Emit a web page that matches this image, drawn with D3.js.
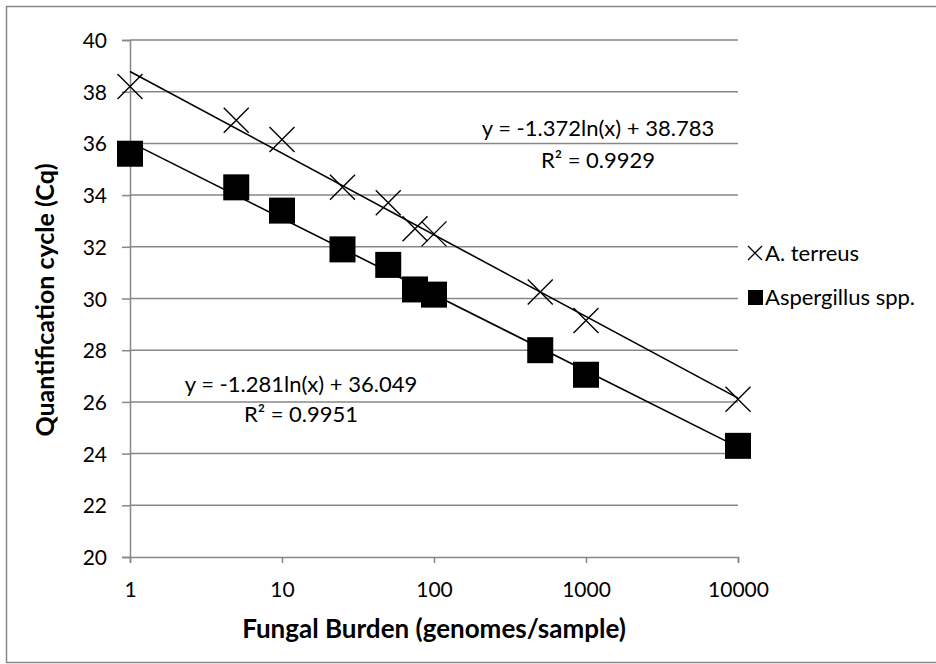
<!DOCTYPE html>
<html>
<head>
<meta charset="utf-8">
<script src="https://cdn.jsdelivr.net/npm/d3@7"></script>
<style>
  body { margin: 0; background: #fff; }
  svg text { font-family: Lato, "Noto Sans", sans-serif; fill: #000; }
</style>
</head>
<body>
<svg width="936" height="664"></svg>
<script>
const burden = [1, 5, 10, 25, 50, 75, 100, 500, 1000, 10000];
const terreus = [38.2, 36.9, 36.15, 34.3, 33.7, 32.7, 32.5, 30.25, 29.15, 26.1];
const aspergillus = [35.6, 34.3, 33.4, 31.9, 31.3, 30.35, 30.15, 28.0, 27.05, 24.3];

// trendline coefficients shown on the chart: y = a ln(x) + b
const fits = [
    { name: "A. terreus", a: -1.372, b: 38.783, eq: "y = -1.372ln(x) + 38.783", r2: "R² = 0.9929" },
    { name: "Aspergillus spp.", a: -1.281, b: 36.049, eq: "y = -1.281ln(x) + 36.049", r2: "R² = 0.9951" }
];

const xTicks = [1, 10, 100, 1000, 10000];
const yTicks = [20, 22, 24, 26, 28, 30, 32, 34, 36, 38, 40];

const svg = d3.select("svg");
const grey = "#878787";

const x = d3.scaleLog().domain([1, 10000]).range([130, 738]);
const y = d3.scaleLinear().domain([20, 40]).range([557, 40]);

// outer chart border
svg.append("rect")
    .attr("x", 6.5).attr("y", 6.5)
    .attr("width", 940).attr("height", 656)
    .attr("fill", "#fff")
    .attr("stroke", grey)
    .attr("stroke-width", 1.5);

// gridlines
svg.append("g")
    .selectAll("line")
    .data(yTicks.slice(1))
    .enter()
    .append("line")
    .attr("x1", 130).attr("x2", 738)
    .attr("y1", d => y(d)).attr("y2", d => y(d))
    .attr("stroke", grey)
    .attr("stroke-width", 1.5);

// axes
const yAxis = svg.append("g")
    .attr("transform", "translate(130,0)")
    .call(d3.axisLeft(y).tickValues(yTicks).tickSize(8).tickPadding(15).tickFormat(d3.format("d")));

const xAxis = svg.append("g")
    .attr("transform", "translate(0,557)")
    .call(d3.axisBottom(x).tickValues(xTicks).tickSize(6).tickPadding(19).tickFormat(d3.format("d")));

[xAxis, yAxis].forEach(g => {
    g.select(".domain").attr("stroke", grey).attr("stroke-width", 1.5);
    g.selectAll(".tick line").attr("stroke", grey).attr("stroke-width", 1.5);
    g.selectAll(".tick text").attr("font-size", 21).attr("font-family", "Lato").attr("fill", "#000");
});
yAxis.selectAll(".tick text").attr("dy", "0.36em");

// trendlines
fits.forEach(f => {
    svg.append("line")
        .attr("x1", x(1)).attr("y1", y(f.a * Math.log(1) + f.b))
        .attr("x2", x(10000)).attr("y2", y(f.a * Math.log(10000) + f.b))
        .attr("stroke", "#000")
        .attr("stroke-width", 1.6);
});

// markers
const cross = (s) => `M${-s},${-s}L${s},${s}M${-s},${s}L${s},${-s}`;

svg.append("g")
    .selectAll("path")
    .data(burden.map((b, i) => [b, terreus[i]]))
    .enter()
    .append("path")
    .attr("transform", d => `translate(${x(d[0])},${y(d[1])})`)
    .attr("d", cross(12.5))
    .attr("stroke", "#000")
    .attr("stroke-width", 1.4)
    .attr("fill", "none");

svg.append("g")
    .selectAll("rect")
    .data(burden.map((b, i) => [b, aspergillus[i]]))
    .enter()
    .append("rect")
    .attr("x", d => x(d[0]) - 13)
    .attr("y", d => y(d[1]) - 13)
    .attr("width", 26)
    .attr("height", 26)
    .attr("fill", "#000");

// equation labels
const eqPos = [[598, 136, 168], [301, 392, 422]];
fits.forEach((f, i) => {
    const p = eqPos[i];
    svg.append("text").attr("x", p[0]).attr("y", p[1])
        .attr("text-anchor", "middle").attr("font-size", 22).text(f.eq);
    svg.append("text").attr("x", p[0]).attr("y", p[2])
        .attr("text-anchor", "middle").attr("font-size", 22).text(f.r2);
});

// axis titles
svg.append("text")
    .attr("transform", "translate(54,300) rotate(-90)")
    .attr("text-anchor", "middle")
    .attr("font-size", 25)
    .attr("font-weight", "bold")
    .text("Quantification cycle (Cq)");

svg.append("text")
    .attr("x", 434).attr("y", 638)
    .attr("text-anchor", "middle")
    .attr("font-size", 26)
    .attr("font-weight", "bold")
    .text("Fungal Burden (genomes/sample)");

// legend
const legend = svg.append("g");
legend.append("path")
    .attr("transform", "translate(755,253)")
    .attr("d", cross(7))
    .attr("stroke", "#000")
    .attr("stroke-width", 1.3)
    .attr("fill", "none");
legend.append("text").attr("x", 765).attr("y", 261)
    .attr("font-size", 22).text(fits[0].name);
legend.append("rect")
    .attr("x", 748).attr("y", 290)
    .attr("width", 15).attr("height", 15)
    .attr("fill", "#000");
legend.append("text").attr("x", 765).attr("y", 305)
    .attr("font-size", 22).text(fits[1].name);
</script>
</body>
</html>
